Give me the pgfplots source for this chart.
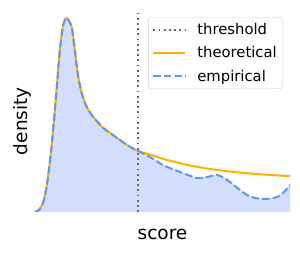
\documentclass[border=0pt]{standalone}
\usepackage{pgfplots}
\usepackage{pgfplotstable}
\pgfplotsset{compat=1.18}
\usepackage{fontspec}
\setmainfont{DejaVu Sans}
\definecolor{orng}{HTML}{FFB000}
\definecolor{bl}{HTML}{6495ED}
\definecolor{fillb}{HTML}{D2DEFB}
\pgfplotstableread{
x y
35 0
39 2
43 9
46 22
48 35
51 60
54 92
56.5 121
59 152
61 172
63 186
65 192.5
66.7 194
68.5 192
71.7 185
74 169
76 152
78.3 135
81.7 119
86.7 105
93.3 95
103.3 84
113 77
127 67
138 61
150 57.5
160 54
175 50
190 46.5
210 43
230 40.5
250 38.5
270 37
290 36
}\theo
\pgfplotstableread{
x y
35 0
39 2
43 9
46 22
48 35
51 60
54 92
56.5 121
59 152
61 172
63 186
65 192.5
66.7 194
68.5 192
71.7 185
74 169
76 152
78.3 135
81.7 119
86.7 105
93.3 95
103.3 84
113 77
127 67
138 61
150 55
163 47
180 40
197 34
207 35
217 37
224 34
230 30
240 22
247 17
255 14
263 13
270 13.5
277 15
284 20
290 27
}\emp
\begin{document}
\begin{tikzpicture}
\useasboundingbox (-35pt,-44pt) rectangle (265pt,212pt);
\begin{axis}[
  at={(0,0)}, anchor=south west,
  scale only axis, width=255pt, height=202pt,
  xmin=35, xmax=290, ymin=0, ymax=202,
  axis line style={draw=none}, ticks=none,
  xlabel={score}, ylabel={density},
  label style={font=\fontsize{18.5}{20}\selectfont},
  xlabel style={at={(axis description cs:0.5,0)}, anchor=base, yshift=-28pt},
  ylabel style={at={(axis description cs:0,0.45)}, anchor=base, rotate=0, yshift=7.7pt},
  legend style={at={(axis cs:283,194.7)}, anchor=north east,
    draw=black!20, rounded corners=3pt, font=\fontsize{14.8}{16}\selectfont,
    inner xsep=4pt, inner ysep=4pt, row sep=6.5pt,
    /tikz/every odd column/.append style={column sep=9pt}},
  legend cell align=left,
  legend image code/.code={\draw[#1] (0pt,0pt) -- (32pt,0pt);},
]
\addplot[draw=bl!35, line width=0.8pt, fill=fillb, smooth, forget plot] table {\emp} \closedcycle;
\addplot[black!60, line width=1.8pt, dash pattern=on 1.8pt off 3.4pt] coordinates {(138,0)(138,202)};
\addlegendentry{threshold}
\addplot[orng, line width=2pt, smooth] table {\theo};
\addlegendentry{theoretical}
\addplot[bl, line width=2pt, smooth, dash pattern=on 7.4pt off 3.2pt] table {\emp};
\addlegendentry{empirical}
\end{axis}
\end{tikzpicture}
\end{document}
